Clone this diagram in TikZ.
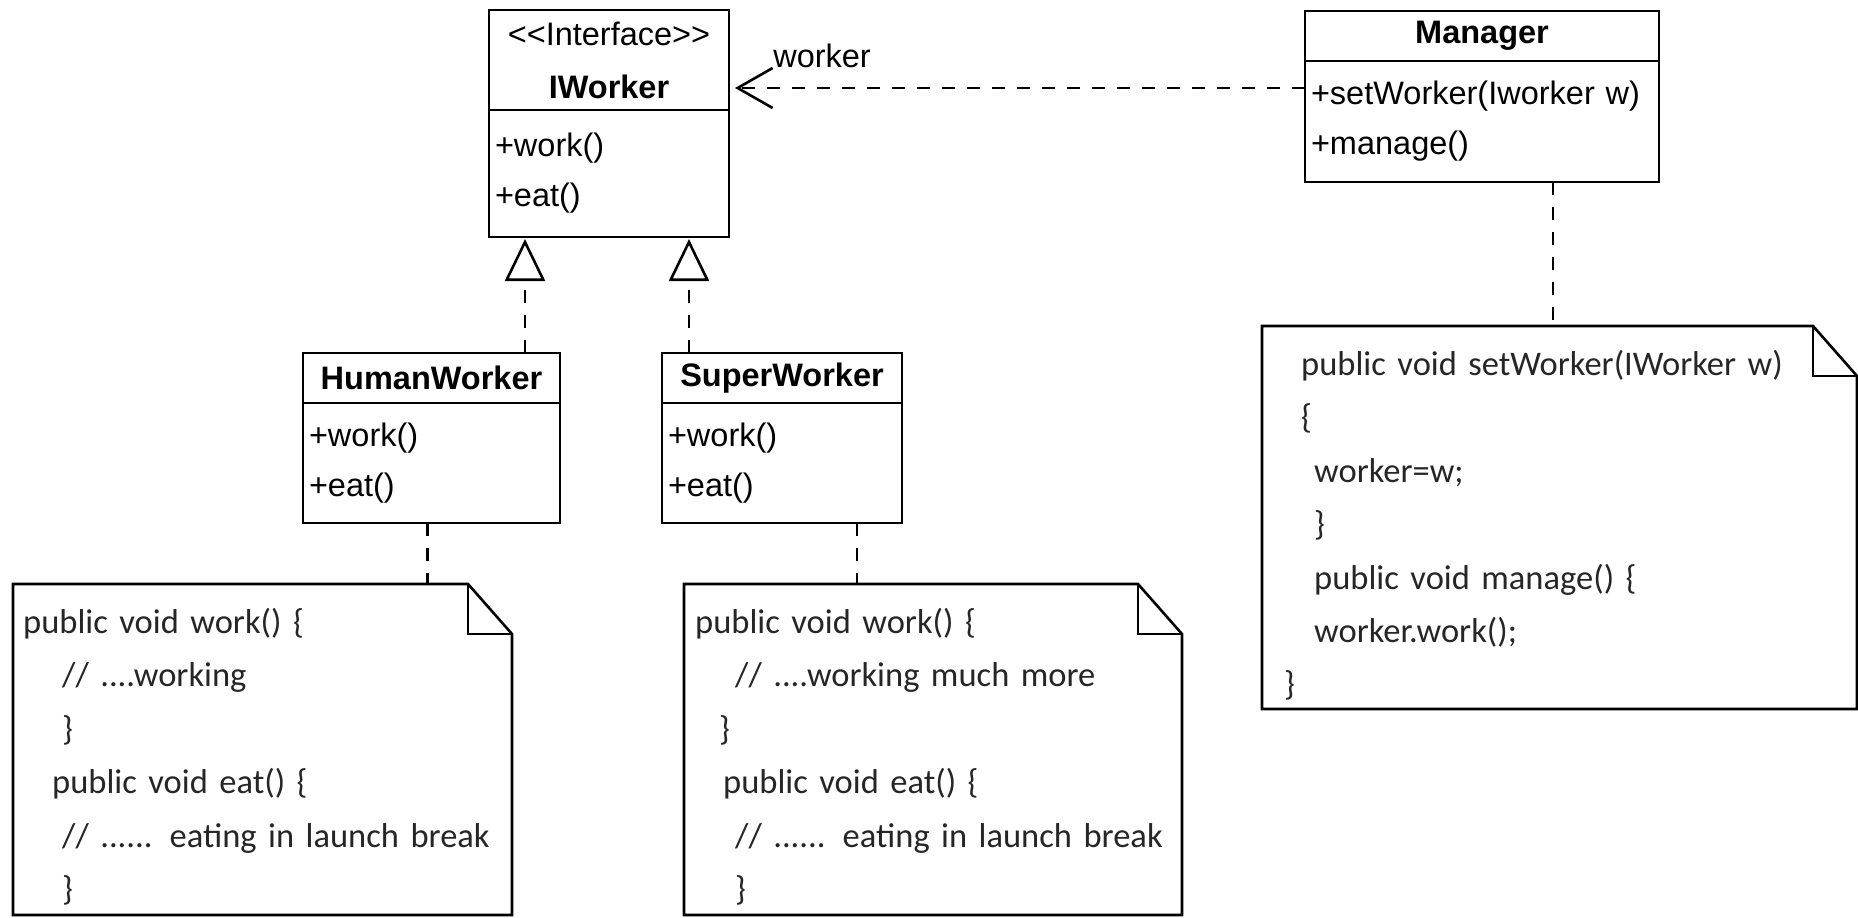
\documentclass[tikz,border=0pt]{standalone}
\usepackage{fontspec}
\newfontfamily\umlfont{Liberation Sans}[Ligatures=TeXOff]
\newfontfamily\codefont{Carlito}
\usetikzlibrary{positioning,arrows.meta}

\begin{document}
\begin{tikzpicture}
  [x=1pt, y=-1pt,
  umlline/.style={line width=2.6pt},
  classhead/.style={draw, line width=2.6pt, inner sep=0pt, outer sep=0pt,
    align=center, font=\umlfont\fontsize{32.5}{53}\selectfont},
  classbody/.style={draw, line width=2.6pt, inner xsep=6pt, inner ysep=0pt,
    outer sep=0pt, align=left, font=\umlfont\fontsize{32.5}{50}\selectfont},
  notebox/.style={inner sep=0pt, outer sep=0pt, anchor=north west},
  codetext/.style={inner sep=0pt, anchor=base west, align=left, text=black!85,
    font=\codefont\fontsize{34.5}{53.4}\selectfont},
  depend/.style={line width=2.6pt, dash pattern=on 13pt off 12pt},
  realize/.style={depend, shorten >=2pt, -{Triangle[open, length=42pt, width=40pt]}},
  usage/.style={depend, shorten >=6pt, -{Straight Barb[length=35pt, width=40pt]}}]

  \useasboundingbox (0,0) rectangle (1858,918);

  % classes
  \node[classhead, minimum width=240pt, minimum height=100pt] (iworker) at (609,60)
    {<<Interface>>\\\textbf{IWorker}};
  \node[classbody, text width=228pt, minimum height=127pt, below=0pt of iworker] (iworkerops)
    {+work()\\+eat()};

  \node[classhead, minimum width=354pt, minimum height=50pt] (manager) at (1482,36)
    {\textbf{Manager}};
  \node[classbody, text width=342pt, minimum height=121pt, below=0pt of manager] (managerops)
    {+setWorker(Iworker w)\\+manage()};

  \node[classhead, minimum width=257pt, minimum height=50pt] (humanhead) at (431.5,378)
    {\textbf{HumanWorker}};
  \node[classbody, text width=245pt, minimum height=120pt, below=0pt of humanhead] (humanops)
    {+work()\\+eat()};

  \node[classhead, minimum width=240pt, minimum height=50pt] (superhead) at (782,378)
    {\textbf{SuperWorker}};
  \node[classbody, text width=228pt, minimum height=120pt, below=0pt of superhead] (superops)
    {+work()\\+eat()};

  % notes
  \node[notebox, minimum width=499pt, minimum height=331pt] (humannote) at (13,584) {};
  \node[notebox, minimum width=498pt, minimum height=331pt] (supernote) at (684,584) {};
  \node[notebox, minimum width=595pt, minimum height=383pt] (managernote) at (1262,326) {};

  \draw[umlline] (humannote.north west) -- ([xshift=-44pt]humannote.north east)
    -- ([yshift=-50pt]humannote.north east) -- (humannote.south east)
    -- (humannote.south west) -- cycle;
  \draw[umlline] ([xshift=-44pt]humannote.north east) |- ([yshift=-50pt]humannote.north east);
  \draw[umlline] (supernote.north west) -- ([xshift=-44pt]supernote.north east)
    -- ([yshift=-50pt]supernote.north east) -- (supernote.south east)
    -- (supernote.south west) -- cycle;
  \draw[umlline] ([xshift=-44pt]supernote.north east) |- ([yshift=-50pt]supernote.north east);
  \draw[umlline] (managernote.north west) -- ([xshift=-44pt]managernote.north east)
    -- ([yshift=-50pt]managernote.north east) -- (managernote.south east)
    -- (managernote.south west) -- cycle;
  \draw[umlline] ([xshift=-44pt]managernote.north east) |- ([yshift=-50pt]managernote.north east);

  \node[codetext, text width=480pt] (humancode) at (23,633.5)
    {public void work() \{\\
     \hspace*{39pt}// ....working\\
     \hspace*{39pt}\}\\
     \hspace*{29pt}public void eat() \{\\
     \hspace*{39pt}// ...... eating in launch break\\
     \hspace*{39pt}\}};
  \node[codetext, text width=480pt] (supercode) at (695,633.5)
    {public void work() \{\\
     \hspace*{40pt}// ....working much more\\
     \hspace*{24pt}\}\\
     \hspace*{28pt}public void eat() \{\\
     \hspace*{40pt}// ...... eating in launch break\\
     \hspace*{40pt}\}};
  \node[codetext, text width=560pt] (managercode) at (1284,375.5)
    {\hspace*{17pt}public void setWorker(IWorker w)\\
     \hspace*{17pt}\{\\
     \hspace*{30pt}worker=w;\\
     \hspace*{30pt}\}\\
     \hspace*{30pt}public void manage() \{\\
     \hspace*{30pt}worker.work();\\
     \}};

  % connectors
  \coordinate (humanport) at ([xshift=-35pt]humanhead.north east);
  \coordinate (superport) at ([xshift=27pt]superhead.north west);
  \coordinate (managerport) at ([yshift=-27pt]managerops.north west);
  \coordinate (humannoteport) at ([xshift=-4pt]humanops.south);
  \coordinate (supernoteport) at ([xshift=75pt]superops.south);
  \coordinate (managernoteport) at ([xshift=71pt]managerops.south);

  \draw[realize] (humanport) -- (humanport |- iworkerops.south);
  \draw[realize] (superport) -- (superport |- iworkerops.south);
  \draw[usage] (managerport) -- (managerport -| iworker.east)
    node[anchor=base west, xshift=43pt, yshift=21pt, inner sep=0pt,
      font=\umlfont\fontsize{32.5}{40}\selectfont] (workerlabel) {worker};

  \draw[depend] (humannoteport) -- (humannoteport |- humannote.north);
  \draw[depend] (supernoteport) -- (supernoteport |- supernote.north);
  \draw[depend] (managernoteport) -- (managernoteport |- managernote.north);

\end{tikzpicture}
\end{document}
